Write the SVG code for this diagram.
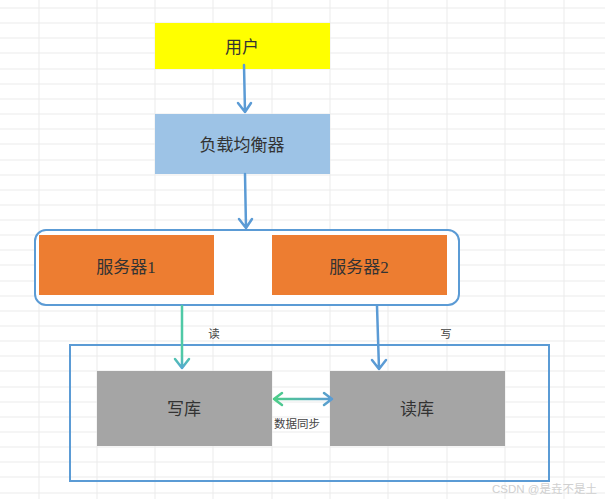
<svg xmlns="http://www.w3.org/2000/svg" width="605" height="499" viewBox="0 0 605 499">
<style>
.grid{stroke:#ebebeb;stroke-width:1;fill:none}
.lbl{font-family:"Liberation Serif","Noto Sans CJK SC",serif;font-size:17px;fill:#333;text-anchor:middle;dominant-baseline:central}
.sm{font-family:"Liberation Serif","Noto Sans CJK SC",serif;font-size:11.5px;fill:#444;text-anchor:middle;dominant-baseline:central}
.blue{stroke:#5b9bd5;stroke-width:2.5;fill:none;stroke-linecap:round;stroke-linejoin:round}
</style>
<defs>
<linearGradient id="gv" x1="0" y1="0" x2="0" y2="1">
<stop offset="0" stop-color="#4fc9a6"/>
<stop offset="0.8" stop-color="#4fc9a6"/>
<stop offset="1" stop-color="#55aad0"/>
</linearGradient>
<linearGradient id="gh" gradientUnits="userSpaceOnUse" x1="273" y1="0" x2="333" y2="0">
<stop offset="0" stop-color="#4ccf87"/>
<stop offset="1" stop-color="#5b9bd5"/>
</linearGradient>
</defs>
<rect width="605" height="499" fill="#ffffff"/>
<g id="grid">
<path class="grid" d="M39,0V499M97,0V499M155,0V499M213,0V499M272,0V499M330,0V499M388,0V499M447,0V499M505,0V499M564,0V499"/>
<path class="grid" d="M0,8H605M0,23H605M0,38H605M0,53H605M0,69H605M0,84H605M0,99H605M0,114H605M0,129H605M0,144H605M0,160H605M0,175H605M0,190H605M0,205H605M0,220H605M0,235H605M0,250H605M0,265H605M0,281H605M0,296H605M0,311H605M0,326H605M0,341H605M0,356H605M0,371H605M0,387H605M0,402H605M0,417H605M0,432H605M0,447H605M0,462H605M0,477H605M0,493H605"/>
</g>
<g id="user">
<rect x="155" y="23" width="175" height="46" fill="#ffff00"/>
<text class="lbl" x="242" y="47">用户</text>
</g>
<g id="lb">
<rect x="155" y="114" width="175" height="60" fill="#9dc3e6"/>
<text class="lbl" x="242" y="145">负载均衡器</text>
</g>
<g id="servers">
<rect x="35" y="230" width="424" height="75" rx="11" fill="#ffffff" stroke="#5b9bd5" stroke-width="2"/>
</g>
<g id="server1">
<rect x="39" y="235" width="175" height="60" fill="#ed7d31"/>
<text class="lbl" x="126" y="267">服务器1</text>
</g>
<g id="server2">
<rect x="272" y="235" width="175" height="60" fill="#ed7d31"/>
<text class="lbl" x="359" y="267">服务器2</text>
</g>
<g id="dbgroup">
<rect x="70" y="345" width="479" height="136" fill="none" stroke="#5b9bd5" stroke-width="2"/>
</g>
<g id="writedb">
<rect x="97" y="371" width="175" height="75" fill="#a5a5a5"/>
<text class="lbl" x="184" y="409">写库</text>
</g>
<g id="readdb">
<rect x="330" y="371" width="175" height="75" fill="#a5a5a5"/>
<text class="lbl" x="417" y="409">读库</text>
</g>
<g id="connectors">
<path class="blue" d="M244,65L245,112M238,103L245,112L251,103"/>
<path class="blue" d="M245,174L246,228M239,219L246,228L252,219"/>
<path d="M182,306V368M175,359L182,368L189,359" fill="none" stroke="url(#gv)" stroke-width="2.5" stroke-linecap="round" stroke-linejoin="round"/>
<path class="blue" d="M377,306L379,369M372,360L379,369L386,360"/>
<path d="M274,399H332M282,393L274,399L282,405M324,393L332,399L324,405" fill="none" stroke="url(#gh)" stroke-width="2.5" stroke-linecap="round" stroke-linejoin="round"/>
<text class="sm" x="214" y="334">读</text>
<text class="sm" x="446" y="334">写</text>
<text class="sm" x="297" y="424">数据同步</text>
</g>
<text x="597" y="489" font-family="'Liberation Sans','Noto Sans CJK SC',sans-serif" font-size="11.5" fill="#d0d0d0" text-anchor="end" dominant-baseline="central">CSDN @是垚不是土</text>
</svg>
